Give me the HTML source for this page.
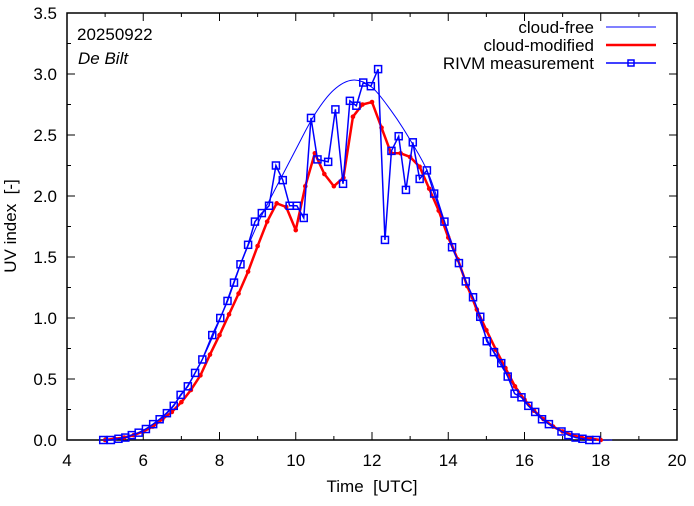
<!DOCTYPE html>
<html><head><meta charset="utf-8"><style>
body{margin:0;background:#fff}
svg text{font-family:"Liberation Sans",sans-serif;font-size:17px;fill:#000}
</style></head><body>
<svg id="chart" width="694" height="501" xmlns="http://www.w3.org/2000/svg">
<g id="axes"></g>
<g id="series"></g>
<text x="77" y="40">20250922</text>
<text x="78" y="64" font-style="italic">De Bilt</text>
<text x="372" y="492" text-anchor="middle" xml:space="preserve">Time  [UTC]</text>
<text transform="translate(16,226) rotate(-90)" text-anchor="middle" xml:space="preserve">UV index  [-]</text>
<g>
<text x="594" y="33" text-anchor="end">cloud-free</text>
<line x1="606" y1="27" x2="656" y2="27" stroke="#0000ff" stroke-width="1"/>
<text x="594" y="51" text-anchor="end">cloud-modified</text>
<line x1="606" y1="45" x2="656" y2="45" stroke="#ff0000" stroke-width="2.5"/>
<text x="594" y="69" text-anchor="end">RIVM measurement</text>
<line x1="606" y1="63" x2="656" y2="63" stroke="#0000ff" stroke-width="1.5"/>
<rect x="628" y="60" width="6" height="6" fill="none" stroke="#0000ff" stroke-width="1.5"/>
</g>
</svg>
<script>
const xTicks=[4,6,8,10,12,14,16,18,20];
const yTicks=[0.0,0.5,1.0,1.5,2.0,2.5,3.0,3.5];
const cfTimes=[5.0,5.5,6.0,6.5,7.0,7.5,8.0,8.5,9.0,9.5,10.0,10.5,11.0,11.5,12.0,12.5,13.0,13.5,14.0,14.5,15.0,15.5,16.0,16.5,17.0,17.5,18.0,18.3];
const cfValues=[0.00,0.02,0.08,0.19,0.37,0.63,0.98,1.40,1.77,2.08,2.38,2.67,2.87,2.95,2.89,2.70,2.46,2.17,1.70,1.27,0.84,0.55,0.32,0.16,0.07,0.02,0.00,0.00];
const cmTimes=[5.0,5.25,5.5,5.75,6.0,6.25,6.5,6.75,7.0,7.25,7.5,7.75,8.0,8.25,8.5,8.75,9.0,9.25,9.5,9.75,10.0,10.25,10.5,10.75,11.0,11.25,11.5,11.75,12.0,12.25,12.5,12.75,13.0,13.25,13.5,13.75,14.0,14.25,14.5,14.75,15.0,15.25,15.5,15.75,16.0,16.25,16.5,16.75,17.0,17.25,17.5,17.75,18.0];
const cmValues=[0.00,0.01,0.02,0.04,0.07,0.11,0.17,0.23,0.31,0.41,0.53,0.70,0.86,1.03,1.20,1.38,1.59,1.79,1.94,1.91,1.72,2.08,2.35,2.18,2.08,2.15,2.65,2.75,2.77,2.56,2.35,2.35,2.32,2.24,2.06,1.88,1.66,1.48,1.26,1.07,0.90,0.74,0.59,0.44,0.33,0.24,0.17,0.11,0.07,0.04,0.02,0.01,0.00];
const msTimes=[4.95,5.15,5.35,5.53,5.70,5.88,6.07,6.26,6.43,6.62,6.80,6.98,7.17,7.36,7.55,7.81,8.02,8.21,8.38,8.55,8.75,8.93,9.11,9.30,9.48,9.66,9.84,10.03,10.21,10.40,10.57,10.85,11.04,11.24,11.42,11.59,11.77,11.97,12.16,12.34,12.51,12.70,12.89,13.07,13.25,13.44,13.63,13.90,14.10,14.28,14.46,14.65,14.84,15.01,15.20,15.39,15.56,15.74,15.92,16.10,16.28,16.46,16.64,16.97,17.15,17.34,17.52,17.70,17.88];
const msValues=[0.00,0.00,0.01,0.02,0.04,0.06,0.09,0.13,0.17,0.22,0.28,0.37,0.44,0.55,0.66,0.86,1.00,1.14,1.29,1.44,1.60,1.79,1.86,1.92,2.25,2.13,1.92,1.92,1.82,2.64,2.30,2.28,2.71,2.10,2.78,2.74,2.93,2.90,3.04,1.64,2.37,2.49,2.05,2.44,2.14,2.21,2.02,1.79,1.58,1.45,1.30,1.17,1.01,0.81,0.72,0.63,0.52,0.38,0.35,0.28,0.23,0.17,0.13,0.07,0.04,0.02,0.01,0.00,0.00];

const L=67,R=677,T=13,B=440,X0=4,X1=20,Y0=0,Y1=3.5;
const sx=v=>L+(v-X0)/(X1-X0)*(R-L);
const sy=v=>B-(v-Y0)/(Y1-Y0)*(B-T);
const NS="http://www.w3.org/2000/svg";
const axes=document.getElementById('axes'),series=document.getElementById('series');
function mk(tag,attrs,parent){const e=document.createElementNS(NS,tag);for(const k in attrs)e.setAttribute(k,attrs[k]);parent.appendChild(e);return e;}

const frame=mk('rect',{x:L,y:T,width:R-L,height:B-T,fill:'none',stroke:'#000','stroke-width':1.5},axes);


for(let v=X0;v<=X1;v+=1){
  const major=(v%2===0),len=major?8:4,x=sx(v);
  const t1=mk('line',{x1:x,y1:B,x2:x,y2:B-len,stroke:'#000'},axes);
  
  
  const t2=mk('line',{x1:x,y1:T,x2:x,y2:T+len,stroke:'#000'},axes);
  
  
}
xTicks.forEach(v=>{
  const t=mk('text',{x:sx(v),y:B+26,'text-anchor':'middle'},axes);t.textContent=String(v);
  
  
});
for(let i=0;i<=14;i++){
  const v=i*0.25,major=(i%2===0),len=major?8:4,y=sy(v);
  const t1=mk('line',{x1:L,y1:y,x2:L+len,y2:y,stroke:'#000'},axes);
  
  
  const t2=mk('line',{x1:R,y1:y,x2:R-len,y2:y,stroke:'#000'},axes);
  
  
}
yTicks.forEach(v=>{
  const t=mk('text',{x:L-10,y:sy(v)+6,'text-anchor':'end'},axes);t.textContent=v.toFixed(1);
  
  
});

const cp=cfTimes.map((t,i)=>[sx(t),sy(cfValues[i])]);
let d='M'+cp[0][0]+','+cp[0][1];
for(let i=0;i<cp.length-1;i++){
  const p0=cp[Math.max(0,i-1)],p1=cp[i],p2=cp[i+1],p3=cp[Math.min(cp.length-1,i+2)];
  d+=' C'+(p1[0]+(p2[0]-p0[0])/6)+','+(p1[1]+(p2[1]-p0[1])/6)+' '+(p2[0]-(p3[0]-p1[0])/6)+','+(p2[1]-(p3[1]-p1[1])/6)+' '+p2[0]+','+p2[1];
}
const cf=mk('path',{d:d,fill:'none',stroke:'#0000ff','stroke-width':1},series);



const cm=mk('polyline',{points:cmTimes.map((t,i)=>sx(t)+','+sy(cmValues[i])).join(' '),fill:'none',stroke:'#ff0000','stroke-width':2.5,'stroke-linejoin':'round'},series);


cmTimes.forEach((t,i)=>{
  const c=mk('circle',{cx:sx(t),cy:sy(cmValues[i]),r:2.3,fill:'#ff0000'},series);
  
  
});

const ms=mk('polyline',{points:msTimes.map((t,i)=>sx(t)+','+sy(msValues[i])).join(' '),fill:'none',stroke:'#0000ff','stroke-width':1.5},series);


msTimes.forEach((t,i)=>{
  const r=mk('rect',{x:sx(t)-3.5,y:sy(msValues[i])-3.5,width:7,height:7,fill:'none',stroke:'#0000ff','stroke-width':1.5},series);
  
  
});
</script>
</body></html>
